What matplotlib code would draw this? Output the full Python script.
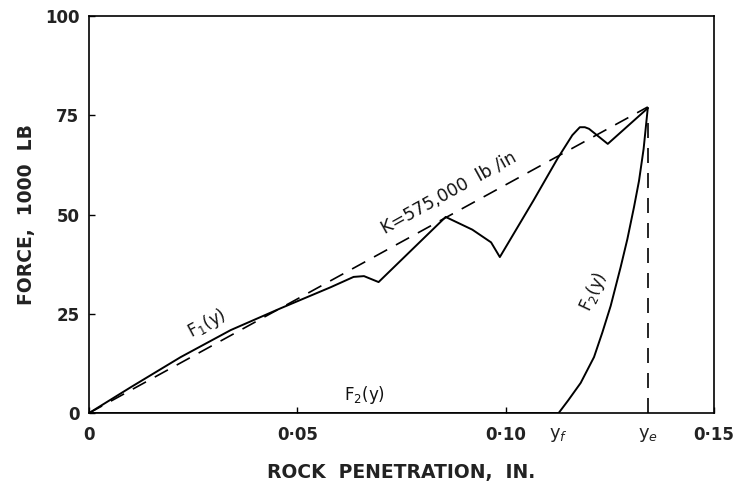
import numpy as np
import matplotlib
matplotlib.use("Agg")
import matplotlib.pyplot as plt

# penetration markers (in.)
y_f = 0.1127
y_e = 0.1341
stiffness = 575.0  # 1000 lb per in.

# F1(y): force-penetration record during loading
f1_x = [0.0, 0.010, 0.022, 0.034, 0.046, 0.058, 0.0635, 0.066, 0.0695,
        0.0856, 0.092, 0.0965, 0.0986, 0.1067, 0.1125, 0.1160, 0.1178,
        0.1190, 0.1200, 0.1245, 0.1341]
f1_F = [0.0, 6.5, 14.1, 20.9, 26.4, 31.7, 34.3, 34.5, 33.0,
        49.4, 46.2, 43.0, 39.3, 53.6, 64.2, 70.0, 72.0,
        72.0, 71.6, 67.8, 76.8]

# F2(y): unloading branch
f2_x = [0.0, y_f, 0.115, 0.118, 0.1212, 0.1232, 0.1252, 0.1276, 0.1292,
        0.1308, 0.1320, 0.1331, y_e]
f2_F = [0.0, 0.0, 3.2, 7.6, 14.1, 20.3, 27.0, 36.8, 43.8,
        51.9, 58.5, 66.5, 76.8]

xtick_pos = [0, 0.05, 0.10, 0.15]
xtick_lbl = ["0", "0\u00b705", "0\u00b710", "0\u00b715"]
ytick_pos = [0, 25, 50, 75, 100]

fig = plt.figure(figsize=(7.33, 4.86), dpi=100)
ax = fig.add_axes([0.1214, 0.150, 0.8527, 0.817])

ax.plot(f1_x, f1_F, color="black", lw=1.4, solid_joinstyle="round")
ax.plot(f2_x, f2_F, color="black", lw=1.4, solid_joinstyle="round")

# elastic stiffness line and the y_e marker
kx = np.array([0.0, y_e])
ax.plot(kx, stiffness * kx, color="black", lw=1.2, linestyle=(0, (9, 6)))
ax.plot([y_e, y_e], [0, stiffness * y_e * 0.97], color="black", lw=1.2,
        linestyle=(0, (9, 6)))

ax.set_xlim(0, 0.15)
ax.set_ylim(0, 100)

tick_font = dict(fontsize=12, fontweight="bold", color="#222222")
ax.set_xticks(xtick_pos, xtick_lbl, **tick_font)
ax.set_xticks([y_f, y_e], ["y$_f$", "y$_e$"], minor=True, fontsize=13, color="#222222")
ax.set_yticks(ytick_pos, [str(v) for v in ytick_pos], **tick_font)
ax.tick_params(axis="both", which="major", direction="in", length=4, width=1)
ax.tick_params(axis="x", which="both", pad=9)
ax.tick_params(axis="x", which="minor", length=0)
ax.tick_params(axis="y", pad=7)

for s in ax.spines.values():
    s.set_linewidth(1.2)

ax.set_xlabel("ROCK  PENETRATION,  IN.", fontsize=13.5, fontweight="bold",
              color="#222222", labelpad=14)
ax.set_ylabel("FORCE,  1000  LB", fontsize=13.5, fontweight="bold",
              color="#222222", labelpad=6)

curve_font = dict(fontsize=12, color="#111111", ha="center", va="center",
                  rotation_mode="anchor")
ax.text(0.0284, 22.5, "F$_1$(y)", rotation=28, **curve_font)
ax.text(0.0865, 55.5, "K=575,000  lb /in", rotation=29, fontsize=12.5,
        color="#111111", ha="center", va="center", rotation_mode="anchor")
ax.text(0.0661, 4.5, "F$_2$(y)", rotation=0, **curve_font)
ax.text(0.1212, 30.5, "F$_2$(y)", rotation=65, **curve_font)

fig.savefig("out.png", dpi=100)
